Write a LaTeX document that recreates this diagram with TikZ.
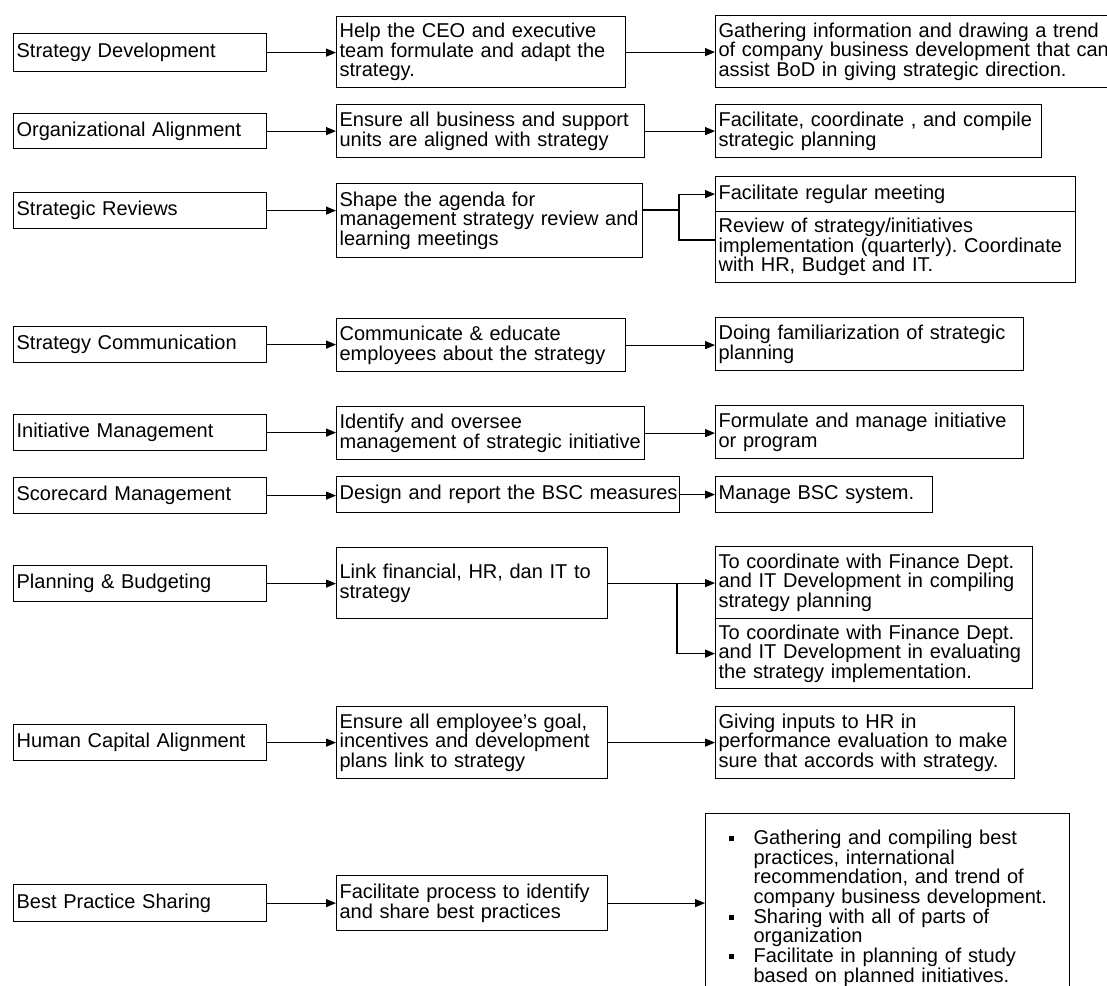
\documentclass[tikz,border=0pt]{standalone}
\usepackage{fontspec}
\setmainfont{Liberation Sans}
\usetikzlibrary{arrows.meta}

% body text of all boxes
\newcommand\boxfont{\fontsize{20pt}{19.7pt}\selectfont\frenchspacing\hyphenpenalty=10000\exhyphenpenalty=10000}
% one box from its top-left corner (x1,y1) to its bottom-right corner (x2,y2)
\newcommand\bx[6]{%
  \pgfmathsetmacro\bw{#4-#2-6}\pgfmathsetmacro\bh{#5-#3}%
  \node[box, text width=\bw pt, minimum height=\bh pt] (#1) at (#2,#3) {#6};}
% bullet item of the list box
\newcommand\blt{\par\noindent\llap{\rule[3.5pt]{5pt}{5pt}\hspace{20pt}}}

\tikzset{
  box/.style={draw, line width=1.2pt, anchor=north west, align=left,
    inner xsep=3pt, inner ysep=0pt, font=\boxfont},
  arr/.style={line width=1.2pt, -{Triangle[length=10pt,width=8pt]}},
  con/.style={line width=1.2pt}
}

\begin{document}
\begin{tikzpicture}[x=1pt,y=-1pt]
\useasboundingbox (0,0) rectangle (1107,985);
\clip (0,0) rectangle (1107,985);

% roles
\bx{sd}{13}{33}{266}{71}{Strategy Development}
\bx{oa}{13}{113}{266}{148}{Organizational Alignment}
\bx{sr}{13}{192}{266}{228}{Strategic Reviews}
\bx{sc}{13}{326}{266}{362}{Strategy Communication}
\bx{im}{13}{414}{266}{450}{Initiative Management}
\bx{sm}{13}{477}{266}{513}{Scorecard Management}
\bx{pb}{13}{565}{266}{601}{Planning \& Budgeting}
\bx{hc}{13}{724}{266}{760}{Human Capital Alignment}
\bx{bp}{13}{884}{266}{921}{Best Practice Sharing}

% responsibilities
\bx{ceo}{336}{16}{625}{87}{Help the CEO and executive\\team formulate and adapt the\\strategy.}
\bx{eb}{336}{104}{644}{157}{Ensure all business and support\\units are aligned with strategy}
\bx{sa}{336}{183}{642}{257}{Shape the agenda for\\management strategy review and\\learning meetings}
\bx{ce}{336}{318}{625}{371}{Communicate \& educate\\employees about the strategy}
\bx{io}{336}{406}{644}{459}{Identify and oversee\\management of strategic initiative}
\bx{dr}{336}{476}{679}{512}{\mbox{Design and report the BSC measures}}
\bx{lf}{336}{547}{607}{618}{Link financial, HR, dan IT to\\strategy}
\bx{ee}{336}{706}{607}{778}{Ensure all employee\symbol{"0027}s goal,\\incentives and development\\plans link to strategy}
\bx{fp}{336}{875}{607}{930}{Facilitate process to identify\\and share best practices}

% activities
\bx{gi}{715}{15}{1115}{87}{Gathering information and drawing a trend\\of company business development that can\\assist BoD in giving strategic direction.}
\bx{fc}{715}{104}{1041}{157}{Facilitate, coordinate , and compile\\strategic planning}
\bx{fr}{715}{176}{1075}{211}{Facilitate regular meeting}
\bx{rv}{715}{211}{1075}{282}{Review of strategy/initiatives\\implementation (quarterly). Coordinate\\with HR, Budget and IT.}
\bx{df}{715}{317}{1023}{370}{Doing familiarization of strategic\\planning}
\bx{fm}{715}{405}{1023}{458}{Formulate and manage initiative\\or program}
\bx{mb}{715}{476}{932}{512}{Manage BSC system.}
\bx{c1}{715}{546}{1032}{618}{To coordinate with Finance Dept.\\and IT Development in compiling\\strategy planning}
\bx{c2}{715}{618}{1032}{688}{To coordinate with Finance Dept.\\and IT Development in evaluating\\the strategy implementation.}
\bx{gv}{715}{706}{1014}{778}{Giving inputs to HR in\\performance evaluation to make\\sure that accords with strategy.}
\node[box, text width=358pt, inner ysep=11pt] (bl) at (705,813) {\leftskip=45pt
  \blt Gathering and compiling best\\practices, international\\recommendation, and trend of\\company business development.
  \blt Sharing with all of parts of\\organization
  \blt Facilitate in planning of study\\based on planned initiatives.\par};

% role -> responsibility
\foreach \a/\b in {sd/ceo, oa/eb, sr/sa, sc/ce, im/io, sm/dr, pb/lf, hc/ee, bp/fp}
  \draw[arr] (\a.east) -- (\a.east -| \b.west);

% responsibility -> activity
\foreach \a/\b in {ceo/gi, eb/fc, ce/df, io/fm, dr/mb, ee/gv, fp/bl, lf/c1}
  \draw[arr] (\a.east) -- (\a.east -| \b.west);

% branching connectors
\coordinate (j3) at (679,210);
\coordinate (j3b) at (679,240);
\draw[con] (sa.east |- j3) -- (j3);
\draw[arr] (j3) |- (fr.west);
\draw[con] (j3) -- (j3b) -- (j3b -| rv.west);

\coordinate (j7) at (677,582);
\draw[arr] (j7 |- lf.east) |- (c2.west);
\end{tikzpicture}
\end{document}
